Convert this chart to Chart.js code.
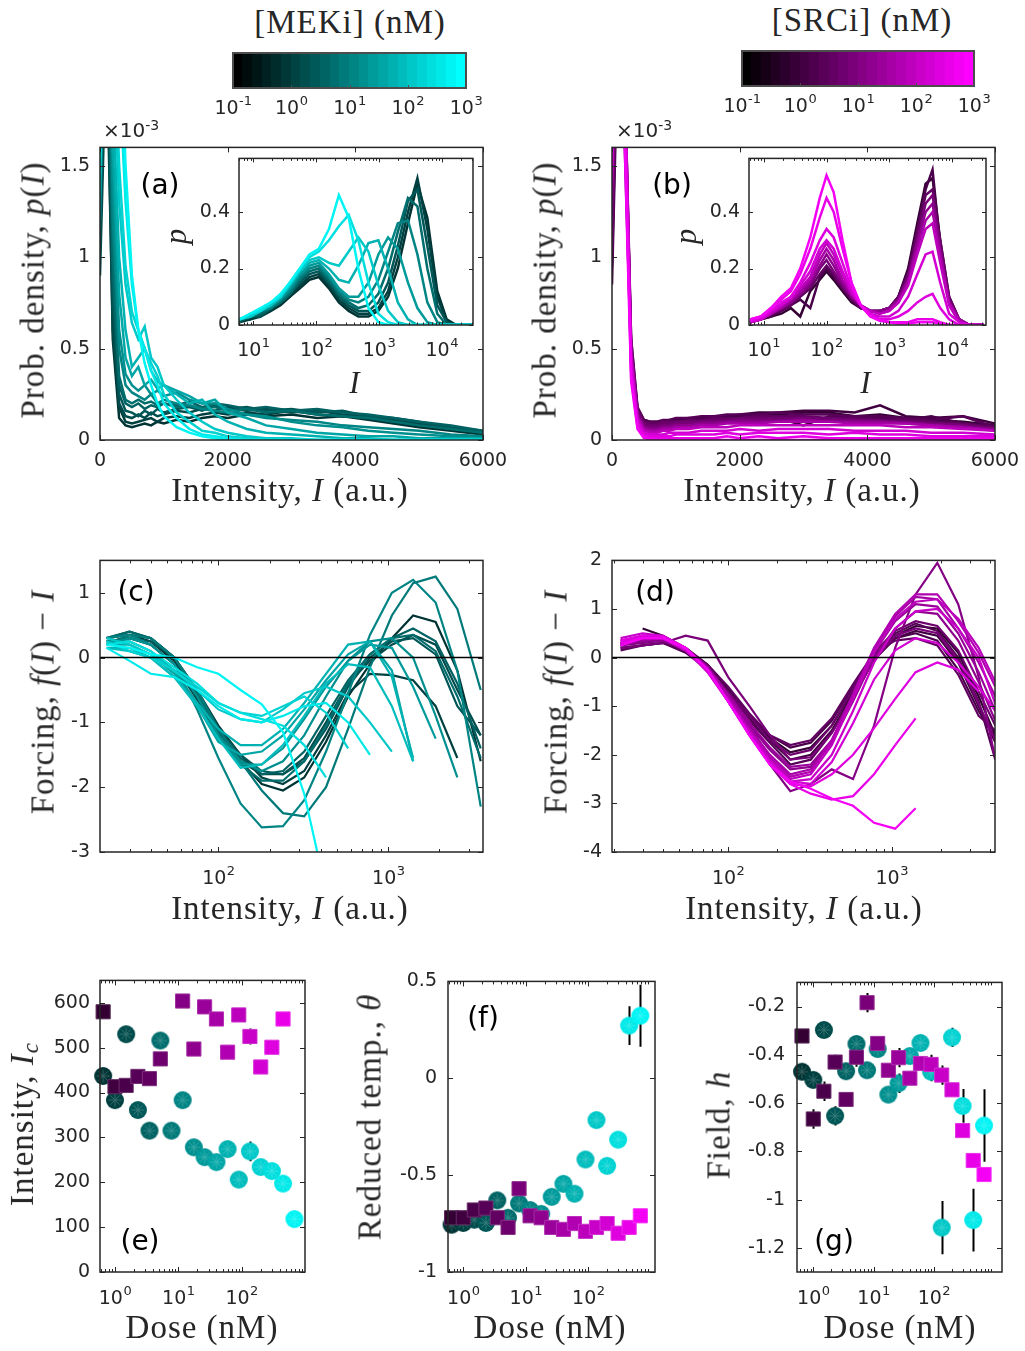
<!DOCTYPE html>
<html>
<head>
<meta charset="utf-8">
<script src="https://cdn.jsdelivr.net/npm/chart.js@4.4.1/dist/chart.umd.min.js"></script>
<style>
  html, body { margin: 0; padding: 0; background: #fff; }
  body { position: relative; width: 1025px; height: 1351px; overflow: hidden; }
  canvas { position: absolute; }
  .lbl { position: absolute; white-space: nowrap; color: #262626; line-height: 1;
         font-family: "Liberation Serif", "Times New Roman", serif; font-size: 33px;
         letter-spacing: 1px; transform: translate(-50%, -50%); }
  .rot { transform: translate(-50%, -50%) rotate(-90deg); }
  .small { font-size: 31px; }
  .lbl sub { font-size: 70%; vertical-align: -5px; }
  .tag { position: absolute; white-space: nowrap; color: #000; line-height: 1;
         font-family: "DejaVu Sans", sans-serif; font-size: 28px; transform: translate(-50%, -50%); }
  .exp { position: absolute; white-space: nowrap; color: #262626; line-height: 1;
         font-family: "DejaVu Sans", sans-serif; font-size: 20px; }
  .exp sup { font-size: 14px; vertical-align: 7px; }
</style>
</head>
<body>
<script>
// ---------- data ----------
// doses used in panels e-g (nM)
const doses = [0.65, 1.0, 1.5, 2.3, 3.5, 5.2, 7.8, 11.7, 17.6, 26, 40, 60, 90, 135, 200, 300, 450, 680];

// (e) critical intensity
const icMek    = [437, 383, 530, 361, 315, 516, 315, 383, 278, 256, 245, 274, 206, 269, 234, 225, 197, 118];
const icMekErr = [4, 4, 4, 14, 4, 4, 4, 4, 4, 18, 4, 4, 4, 22, 4, 4, 4, 4];
const icSrc    = [580, 413, 416, 436, 431, 475, null, 604, 497, 591, 564, 490, 573, 525, 457, 501, 564, null];
const icSrcErr = [14, 4, 4, 4, 4, 14, 0, 10, 4, 16, 4, 4, 8, 18, 4, 4, 4, 0];

// (f) reduced temperature
const thMek    = [-0.756, -0.747, -0.73, -0.747, -0.63, -0.72, -0.646, -0.68, -0.70, -0.612, -0.545, -0.596, -0.419, -0.216, -0.452, -0.317, 0.272, 0.323];
const thMekErr = [0.01, 0.01, 0.01, 0.02, 0.02, 0.02, 0.03, 0.01, 0.01, 0.02, 0.02, 0.02, 0.02, 0.02, 0.03, 0.03, 0.1, 0.16];
const thSrc    = [-0.72, -0.72, -0.68, -0.67, -0.72, -0.77, -0.57, -0.71, -0.72, -0.77, -0.78, -0.75, -0.79, -0.77, -0.75, -0.80, -0.77, -0.71];
const thSrcErr = [0.01, 0.01, 0.01, 0.01, 0.01, 0.01, 0.02, 0.01, 0.01, 0.01, 0.01, 0.01, 0.01, 0.01, 0.01, 0.01, 0.01, 0.01];

// (g) field
const hMek    = [-0.47, -0.504, -0.297, -0.653, -0.468, -0.355, -0.464, -0.376, -0.565, -0.518, -0.405, -0.351, -0.47, -1.116, -0.328, -0.612, -1.085, -0.693];
const hMekErr = [0.01, 0.01, 0.01, 0.04, 0.03, 0.02, 0.02, 0.02, 0.02, 0.04, 0.03, 0.02, 0.04, 0.11, 0.04, 0.07, 0.13, 0.15];
const hSrc    = [-0.322, -0.666, -0.551, -0.43, -0.585, -0.41, -0.184, -0.353, -0.464, -0.412, -0.497, -0.436, -0.44, -0.484, -0.545, -0.714, -0.838, -0.896];
const hSrcErr = [0.01, 0.04, 0.04, 0.03, 0.01, 0.04, 0.04, 0.01, 0.02, 0.04, 0.02, 0.02, 0.04, 0.04, 0.02, 0.02, 0.02, 0.02];

// (a) MEKi histograms, linear intensity, p in units of 1e-3
const histX = [0, 100, 200, 300, 400, 500, 600, 700, 800, 900, 1000, 1200, 1400, 1600, 1800, 2000, 2300, 2600, 3000, 3400, 3800, 4200, 4600, 5000, 5500, 6000];
const histMekDose = [0.65, 1.0, 1.5, 2.3, 3.5, 5.2, 11.7, 17.6, 40, 60, 135, 200, 450, 680];
const histMek = [
  [1.05, 2.4, 0.55, 0.12, 0.08, 0.07, 0.08, 0.09, 0.08, 0.1, 0.09, 0.11, 0.1, 0.12, 0.13, 0.12, 0.14, 0.13, 0.14, 0.12, 0.13, 0.11, 0.09, 0.07, 0.05, 0.03],
  [1.25, 2.6, 0.7, 0.18, 0.1, 0.09, 0.1, 0.11, 0.12, 0.1, 0.12, 0.13, 0.12, 0.14, 0.15, 0.14, 0.15, 0.14, 0.16, 0.14, 0.13, 0.12, 0.1, 0.08, 0.06, 0.04],
  [0.9, 2.2, 0.6, 0.2, 0.13, 0.12, 0.14, 0.12, 0.15, 0.13, 0.14, 0.16, 0.15, 0.17, 0.16, 0.18, 0.16, 0.17, 0.15, 0.16, 0.14, 0.13, 0.11, 0.09, 0.06, 0.04],
  [1.3, 2.5, 0.8, 0.25, 0.16, 0.15, 0.13, 0.16, 0.14, 0.17, 0.15, 0.17, 0.18, 0.16, 0.19, 0.17, 0.18, 0.16, 0.17, 0.15, 0.16, 0.13, 0.12, 0.1, 0.07, 0.05],
  [1.15, 2.7, 0.9, 0.3, 0.2, 0.18, 0.2, 0.17, 0.19, 0.18, 0.2, 0.19, 0.21, 0.18, 0.2, 0.19, 0.17, 0.18, 0.16, 0.17, 0.15, 0.14, 0.12, 0.1, 0.08, 0.05],
  [1.4, 2.8, 1.0, 0.35, 0.22, 0.2, 0.22, 0.2, 0.21, 0.19, 0.2, 0.18, 0.19, 0.17, 0.18, 0.16, 0.17, 0.15, 0.16, 0.14, 0.13, 0.12, 0.1, 0.08, 0.06, 0.04],
  [1.2, 2.9, 1.2, 0.5, 0.3, 0.26, 0.24, 0.22, 0.25, 0.2, 0.22, 0.2, 0.19, 0.17, 0.16, 0.15, 0.14, 0.12, 0.11, 0.1, 0.08, 0.07, 0.06, 0.05, 0.03, 0.02],
  [1.3, 3.0, 1.4, 0.6, 0.36, 0.3, 0.27, 0.3, 0.25, 0.27, 0.24, 0.26, 0.22, 0.2, 0.2, 0.17, 0.14, 0.13, 0.1, 0.08, 0.07, 0.05, 0.04, 0.03, 0.02, 0.01],
  [1.5, 3.0, 1.6, 0.8, 0.45, 0.35, 0.4, 0.3, 0.33, 0.28, 0.3, 0.27, 0.24, 0.2, 0.22, 0.15, 0.12, 0.08, 0.06, 0.04, 0.03, 0.02, 0.02, 0.01, 0.01, 0.01],
  [1.35, 3.0, 1.9, 1.0, 0.6, 0.4, 0.45, 0.5, 0.38, 0.32, 0.3, 0.25, 0.2, 0.22, 0.14, 0.1, 0.06, 0.04, 0.03, 0.02, 0.01, 0.01, 0, 0, 0, 0],
  [1.45, 3.2, 2.2, 1.3, 0.85, 0.64, 0.55, 0.62, 0.45, 0.4, 0.3, 0.22, 0.15, 0.1, 0.06, 0.04, 0.02, 0.01, 0.01, 0, 0, 0, 0, 0, 0, 0],
  [1.5, 3.2, 2.4, 1.5, 0.95, 0.7, 0.6, 0.5, 0.42, 0.35, 0.25, 0.15, 0.1, 0.05, 0.04, 0.02, 0.01, 0, 0, 0, 0, 0, 0, 0, 0, 0],
  [1.55, 3.5, 3.0, 2.0, 1.3, 0.85, 0.6, 0.5, 0.38, 0.3, 0.2, 0.12, 0.06, 0.03, 0.02, 0.01, 0, 0, 0, 0, 0, 0, 0, 0, 0, 0],
  [1.6, 3.8, 3.4, 2.5, 1.5, 0.9, 0.6, 0.42, 0.3, 0.2, 0.13, 0.07, 0.04, 0.02, 0.01, 0, 0, 0, 0, 0, 0, 0, 0, 0, 0, 0]
];

// (b) SRCi histograms
const histSrcDose = [0.65, 1.0, 1.5, 2.3, 3.5, 5.2, 7.8, 17.6, 40, 90, 200, 300, 450, 680];
const histSrc = [
  [0.95, 2.4, 1.7, 0.45, 0.15, 0.1, 0.09, 0.09, 0.1, 0.1, 0.11, 0.11, 0.12, 0.12, 0.13, 0.13, 0.14, 0.14, 0.15, 0.15, 0.13, 0.14, 0.12, 0.11, 0.1, 0.08],
  [1.1, 2.5, 1.8, 0.5, 0.17, 0.11, 0.1, 0.1, 0.1, 0.11, 0.11, 0.12, 0.12, 0.13, 0.13, 0.14, 0.15, 0.15, 0.16, 0.16, 0.15, 0.19, 0.13, 0.12, 0.13, 0.09],
  [0.85, 2.3, 1.6, 0.42, 0.14, 0.09, 0.08, 0.08, 0.09, 0.09, 0.1, 0.1, 0.11, 0.11, 0.12, 0.12, 0.13, 0.12, 0.08, 0.13, 0.12, 0.12, 0.11, 0.13, 0.09, 0.08],
  [1.2, 2.6, 1.9, 0.55, 0.18, 0.11, 0.1, 0.1, 0.11, 0.11, 0.12, 0.12, 0.13, 0.13, 0.14, 0.14, 0.14, 0.15, 0.14, 0.14, 0.13, 0.13, 0.12, 0.11, 0.13, 0.07],
  [1.3, 2.7, 2.0, 0.55, 0.17, 0.1, 0.09, 0.09, 0.1, 0.1, 0.1, 0.11, 0.11, 0.12, 0.12, 0.12, 0.13, 0.13, 0.13, 0.12, 0.12, 0.11, 0.11, 0.1, 0.09, 0.07],
  [1.0, 2.5, 1.8, 0.5, 0.16, 0.09, 0.08, 0.08, 0.09, 0.09, 0.1, 0.1, 0.1, 0.11, 0.11, 0.12, 0.12, 0.12, 0.12, 0.12, 0.11, 0.11, 0.1, 0.09, 0.08, 0.06],
  [1.25, 2.6, 1.9, 0.5, 0.15, 0.08, 0.07, 0.07, 0.08, 0.08, 0.09, 0.09, 0.1, 0.1, 0.1, 0.11, 0.11, 0.11, 0.12, 0.11, 0.11, 0.1, 0.1, 0.09, 0.08, 0.06],
  [1.35, 2.8, 2.0, 0.5, 0.14, 0.07, 0.06, 0.06, 0.07, 0.07, 0.08, 0.08, 0.09, 0.09, 0.1, 0.1, 0.1, 0.1, 0.11, 0.1, 0.1, 0.1, 0.09, 0.08, 0.07, 0.06],
  [1.4, 2.9, 2.0, 0.48, 0.13, 0.06, 0.05, 0.05, 0.06, 0.06, 0.07, 0.07, 0.08, 0.08, 0.09, 0.09, 0.09, 0.1, 0.1, 0.1, 0.09, 0.09, 0.09, 0.08, 0.07, 0.05],
  [1.45, 3.0, 2.0, 0.45, 0.12, 0.05, 0.04, 0.04, 0.05, 0.05, 0.06, 0.06, 0.07, 0.07, 0.07, 0.08, 0.08, 0.08, 0.08, 0.08, 0.08, 0.08, 0.07, 0.07, 0.06, 0.05],
  [1.5, 3.0, 1.9, 0.4, 0.1, 0.04, 0.03, 0.03, 0.03, 0.04, 0.04, 0.04, 0.05, 0.05, 0.05, 0.06, 0.05, 0.06, 0.06, 0.06, 0.05, 0.05, 0.05, 0.04, 0.04, 0.03],
  [1.55, 3.1, 1.8, 0.38, 0.08, 0.03, 0.02, 0.02, 0.02, 0.02, 0.03, 0.03, 0.03, 0.03, 0.04, 0.03, 0.04, 0.04, 0.04, 0.03, 0.04, 0.03, 0.03, 0.02, 0.02, 0.02],
  [1.6, 3.2, 1.7, 0.35, 0.07, 0.02, 0.01, 0.01, 0.01, 0.01, 0.01, 0.01, 0.01, 0.01, 0.02, 0.01, 0.02, 0.01, 0.02, 0.01, 0.01, 0.01, 0.01, 0.01, 0.01, 0.01],
  [1.6, 3.3, 1.6, 0.32, 0.06, 0.01, 0.005, 0, 0, 0, 0, 0, 0, 0, 0, 0, 0, 0, 0, 0, 0, 0, 0, 0, 0, 0]
];

// inset (a): MEKi, log intensity
const logHistMekX = [6, 9, 13, 19, 27, 38, 55, 78, 110, 160, 230, 330, 470, 680, 980, 1400, 2000, 2900, 4100, 5900, 8500, 12000, 17000, 32000];
const logHistMekDose = [0.65, 1.0, 2.3, 5.2, 11.7, 26, 60, 135, 300, 680];
const logHistMek = [
  [0.01, 0.02, 0.03, 0.05, 0.07, 0.1, 0.13, 0.16, 0.17, 0.13, 0.08, 0.05, 0.03, 0.03, 0.05, 0.1, 0.2, 0.36, 0.5, 0.38, 0.12, 0.02, 0, 0],
  [0.02, 0.02, 0.04, 0.05, 0.08, 0.1, 0.14, 0.17, 0.18, 0.14, 0.09, 0.06, 0.04, 0.04, 0.06, 0.12, 0.24, 0.4, 0.52, 0.34, 0.1, 0.01, 0, 0],
  [0.01, 0.03, 0.03, 0.06, 0.08, 0.11, 0.15, 0.18, 0.19, 0.15, 0.1, 0.07, 0.05, 0.05, 0.08, 0.15, 0.28, 0.44, 0.48, 0.28, 0.07, 0.01, 0, 0],
  [0.02, 0.03, 0.04, 0.06, 0.08, 0.11, 0.16, 0.19, 0.2, 0.16, 0.11, 0.08, 0.06, 0.07, 0.11, 0.2, 0.33, 0.45, 0.42, 0.2, 0.04, 0, 0, 0],
  [0.02, 0.03, 0.05, 0.06, 0.09, 0.12, 0.17, 0.2, 0.21, 0.17, 0.12, 0.09, 0.08, 0.1, 0.16, 0.26, 0.36, 0.37, 0.25, 0.08, 0.01, 0, 0, 0],
  [0.02, 0.03, 0.05, 0.07, 0.09, 0.13, 0.18, 0.21, 0.22, 0.18, 0.13, 0.1, 0.1, 0.15, 0.25, 0.31, 0.27, 0.15, 0.06, 0.01, 0, 0, 0, 0],
  [0.02, 0.03, 0.05, 0.07, 0.1, 0.14, 0.19, 0.22, 0.23, 0.2, 0.16, 0.15, 0.21, 0.29, 0.3, 0.2, 0.08, 0.02, 0, 0, 0, 0, 0, 0],
  [0.02, 0.03, 0.05, 0.07, 0.1, 0.14, 0.19, 0.23, 0.24, 0.22, 0.21, 0.26, 0.31, 0.26, 0.14, 0.05, 0.01, 0, 0, 0, 0, 0, 0, 0],
  [0.02, 0.04, 0.05, 0.08, 0.1, 0.15, 0.2, 0.24, 0.26, 0.3, 0.35, 0.39, 0.3, 0.15, 0.04, 0.01, 0, 0, 0, 0, 0, 0, 0, 0],
  [0.02, 0.04, 0.06, 0.08, 0.11, 0.15, 0.2, 0.25, 0.27, 0.34, 0.46, 0.38, 0.2, 0.06, 0.01, 0, 0, 0, 0, 0, 0, 0, 0, 0]
];

// inset (b): SRCi, log intensity
const logHistSrcX = [6, 9, 13, 19, 27, 38, 55, 78, 100, 130, 180, 250, 350, 500, 700, 1000, 1400, 2000, 2800, 3800, 4900, 6500, 9000, 13000, 19000, 32000];
const logHistSrcDose = [0.65, 1.5, 3.5, 7.8, 17.6, 40, 90, 200, 300, 450, 680];
const logHistSrc = [
  [0.01, 0.02, 0.03, 0.04, 0.06, 0.03, 0.12, 0.16, 0.19, 0.16, 0.12, 0.08, 0.06, 0.05, 0.05, 0.06, 0.1, 0.2, 0.36, 0.5, 0.52, 0.3, 0.1, 0.02, 0, 0],
  [0.01, 0.02, 0.03, 0.05, 0.07, 0.09, 0.06, 0.17, 0.2, 0.17, 0.13, 0.09, 0.06, 0.05, 0.05, 0.06, 0.1, 0.19, 0.34, 0.48, 0.55, 0.28, 0.09, 0.02, 0, 0],
  [0.01, 0.02, 0.04, 0.05, 0.07, 0.1, 0.13, 0.18, 0.21, 0.18, 0.13, 0.09, 0.06, 0.05, 0.05, 0.06, 0.1, 0.18, 0.33, 0.46, 0.48, 0.3, 0.1, 0.02, 0, 0],
  [0.01, 0.02, 0.04, 0.06, 0.08, 0.11, 0.14, 0.2, 0.23, 0.19, 0.14, 0.1, 0.07, 0.05, 0.05, 0.06, 0.09, 0.17, 0.3, 0.43, 0.46, 0.28, 0.09, 0.02, 0, 0],
  [0.01, 0.02, 0.04, 0.06, 0.08, 0.11, 0.15, 0.21, 0.25, 0.21, 0.15, 0.1, 0.07, 0.05, 0.05, 0.06, 0.09, 0.16, 0.29, 0.4, 0.43, 0.26, 0.08, 0.02, 0, 0],
  [0.01, 0.02, 0.04, 0.06, 0.09, 0.12, 0.16, 0.23, 0.27, 0.23, 0.16, 0.11, 0.07, 0.05, 0.04, 0.05, 0.08, 0.15, 0.27, 0.37, 0.4, 0.25, 0.08, 0.02, 0, 0],
  [0.01, 0.02, 0.04, 0.07, 0.09, 0.13, 0.17, 0.25, 0.29, 0.25, 0.18, 0.11, 0.07, 0.05, 0.04, 0.05, 0.08, 0.14, 0.25, 0.34, 0.36, 0.22, 0.07, 0.01, 0, 0],
  [0.01, 0.02, 0.05, 0.07, 0.1, 0.14, 0.19, 0.27, 0.3, 0.27, 0.19, 0.12, 0.07, 0.04, 0.03, 0.03, 0.05, 0.1, 0.18, 0.25, 0.26, 0.15, 0.04, 0.01, 0, 0],
  [0.01, 0.03, 0.05, 0.08, 0.1, 0.15, 0.22, 0.3, 0.34, 0.31, 0.22, 0.13, 0.07, 0.04, 0.02, 0.02, 0.03, 0.05, 0.08, 0.1, 0.11, 0.06, 0.02, 0, 0, 0],
  [0.02, 0.03, 0.06, 0.09, 0.12, 0.18, 0.27, 0.38, 0.45, 0.4, 0.27, 0.15, 0.07, 0.03, 0.02, 0.01, 0.01, 0.01, 0.02, 0.02, 0.02, 0.01, 0, 0, 0, 0],
  [0.02, 0.03, 0.06, 0.1, 0.13, 0.2, 0.31, 0.45, 0.53, 0.47, 0.3, 0.15, 0.07, 0.03, 0.015, 0.01, 0.005, 0.005, 0.01, 0.01, 0.01, 0.005, 0, 0, 0, 0]
];

// (c) MEKi forcing
const forceMekX = [22, 30, 40, 55, 75, 100, 135, 180, 240, 320, 430, 580, 780, 1050, 1400, 1900, 2550, 3500];
const forceMekDose = doses;
const forceMek = [
  [0.3, 0.35, 0.25, -0.05, -0.6, -1.15, -1.6, -1.95, -2.05, -1.85, -1.3, -0.6, -0.1, 0.3, 0.65, 0.55, -0.2, -1.6],
  [0.3, 0.4, 0.3, 0.0, -0.5, -1.05, -1.5, -1.85, -1.95, -1.75, -1.2, -0.55, -0.25, -0.27, -0.35, -0.75, -1.55, null],
  [0.25, 0.3, 0.2, -0.1, -0.65, -1.2, -1.6, -1.8, -1.8, -1.55, -1.0, -0.4, -0.05, 0.2, 0.35, 0.2, -0.5, -1.2],
  [0.25, 0.3, 0.25, 0.0, -0.55, -1.1, -1.5, -1.75, -1.8, -1.6, -1.1, -0.45, 0.0, 0.25, 0.3, 0.05, -0.75, -1.2],
  [0.2, 0.35, 0.3, 0.0, -0.55, -1.15, -1.55, -1.8, -1.75, -1.45, -0.9, -0.35, 0.05, 0.3, 0.45, 0.25, -0.4, -1.4],
  [0.3, 0.4, 0.3, 0.0, -0.55, -1.15, -1.65, -1.9, -1.9, -1.6, -1.05, -0.4, 0.05, 0.3, 0.35, 0.1, -0.6, -1.55],
  [0.2, 0.35, 0.3, 0.0, -0.5, -1.1, -1.6, -2.05, -2.4, -2.45, -2.0, -1.1, -0.15, 0.65, 1.15, 1.25, 0.75, -0.5],
  [0.3, 0.35, 0.2, -0.1, -0.8, -1.55, -2.25, -2.62, -2.6, -2.2, -1.45, -0.55, 0.35, 1.0, 1.2, 0.85, -0.2, -2.3],
  [0.2, 0.3, 0.2, -0.1, -0.6, -1.2, -1.6, -1.75, -1.6, -1.2, -0.6, -0.05, 0.25, 0.3, 0.0, -0.9, -1.85, null],
  [0.25, 0.25, 0.1, -0.2, -0.7, -1.25, -1.65, -1.65, -1.4, -0.95, -0.45, -0.05, 0.2, 0.15, -0.45, -1.25, null, null],
  [0.2, 0.2, 0.05, -0.25, -0.75, -1.3, -1.5, -1.45, -1.2, -0.8, -0.35, 0.05, 0.25, -0.2, -1.6, null, null, null],
  [0.15, 0.15, 0.0, -0.3, -0.7, -1.1, -1.35, -1.35, -1.1, -0.7, -0.25, 0.2, 0.25, -0.3, -1.55, null, null, null],
  [0.15, 0.1, 0.0, -0.3, -0.75, -1.25, -1.7, -1.65, -1.35, -0.9, -0.4, -0.1, -0.15, -0.75, -1.6, null, null, null],
  [0.3, 0.2, 0.05, -0.2, -0.5, -0.8, -0.95, -1.0, -0.8, -0.55, -0.45, -0.6, -1.0, -1.45, null, null, null, null],
  [0.25, 0.1, 0.0, -0.2, -0.45, -0.7, -0.85, -0.9, -0.75, -0.6, -0.85, -1.4, null, null, null, null, null, null],
  [0.2, 0.25, 0.1, -0.15, -0.4, -0.7, -0.85, -0.95, -1.05, -1.35, -1.85, null, null, null, null, null, null, null],
  [0.15, -0.05, -0.25, -0.3, -0.5, -0.75, -0.95, -1.0, -0.9, -0.75, -0.7, -1.0, -1.5, null, null, null, null, null],
  [0.2, 0.15, 0.05, 0.0, -0.15, -0.25, -0.5, -0.72, -1.15, -2.1, -3.6, null, null, null, null, null, null, null]
];

// (d) SRCi forcing
const forceSrcX = [22, 30, 40, 55, 75, 100, 135, 180, 240, 320, 430, 580, 780, 1050, 1400, 1900, 2550, 3400, 4300];
const forceSrcDose = doses;
const forceSrc = [
  [null, 0.6, 0.45, 0.2, -0.15, -0.65, -1.2, -1.65, -1.95, -1.85, -1.4, -0.7, 0.0, 0.45, 0.65, 0.6, 0.1, -0.8, -1.6],
  [0.2, 0.25, 0.3, 0.15, -0.2, -0.7, -1.25, -1.7, -2.1, -2.0, -1.5, -0.75, -0.05, 0.4, 0.55, 0.45, -0.1, -1.0, -1.75],
  [0.3, 0.35, 0.35, 0.15, -0.2, -0.7, -1.2, -1.6, -1.85, -1.75, -1.3, -0.6, 0.05, 0.4, 0.5, 0.35, -0.25, -1.1, -1.65],
  [0.15, 0.25, 0.3, 0.1, -0.25, -0.75, -1.3, -1.75, -2.2, -2.1, -1.55, -0.8, -0.05, 0.5, 0.7, 0.55, 0.0, -0.9, -2.1],
  [0.3, 0.3, 0.35, 0.2, -0.15, -0.6, -1.15, -1.6, -1.8, -1.7, -1.25, -0.55, 0.1, 0.35, 0.4, 0.25, -0.35, -1.2, -1.5],
  [0.25, 0.4, 0.35, 0.15, -0.2, -0.7, -1.2, -1.7, -2.0, -1.9, -1.4, -0.65, 0.1, 0.55, 0.75, 0.65, 0.15, -0.7, -1.4],
  [0.2, 0.25, 0.3, 0.45, 0.35, -0.4, -1.0, -1.6, -2.1, -2.05, -1.55, -0.8, -0.05, 0.45, 0.6, 0.5, -0.05, -0.95, -1.7],
  [0.25, 0.3, 0.35, 0.2, -0.2, -0.75, -1.3, -2.2, -2.75, -2.6, -2.3, -2.5, -1.4, 0.2, 1.3, 1.95, 1.1, -0.4, -2.1],
  [0.25, 0.35, 0.35, 0.15, -0.25, -0.8, -1.4, -1.9, -2.3, -2.25, -1.75, -0.9, 0.0, 0.6, 0.95, 0.9, 0.35, -0.5, -1.3],
  [0.3, 0.35, 0.4, 0.2, -0.2, -0.75, -1.35, -1.85, -2.25, -2.2, -1.7, -0.85, 0.1, 0.75, 1.1, 1.05, 0.5, -0.3, -1.1],
  [0.35, 0.4, 0.4, 0.2, -0.2, -0.8, -1.45, -2.0, -2.4, -2.3, -1.75, -0.8, 0.15, 0.85, 1.25, 1.2, 0.6, -0.1, -0.8],
  [0.3, 0.45, 0.4, 0.15, -0.25, -0.85, -1.5, -2.05, -2.45, -2.35, -1.7, -0.75, 0.2, 0.9, 1.3, 1.3, 0.75, 0.1, -0.6],
  [0.35, 0.45, 0.4, 0.15, -0.25, -0.85, -1.5, -2.1, -2.5, -2.4, -1.8, -0.85, 0.1, 0.8, 1.15, 1.2, 0.8, 0.2, -0.5],
  [0.4, 0.5, 0.45, 0.2, -0.3, -0.9, -1.55, -2.15, -2.55, -2.5, -2.0, -1.1, -0.1, 0.6, 0.95, 1.0, 0.6, 0.0, -0.95],
  [0.3, 0.45, 0.4, 0.15, -0.3, -0.9, -1.55, -2.15, -2.55, -2.6, -2.15, -1.35, -0.45, 0.15, 0.4, 0.3, -0.1, -0.6, -1.1],
  [0.35, 0.45, 0.45, 0.2, -0.25, -0.9, -1.6, -2.2, -2.6, -2.65, -2.4, -2.0, -1.45, -0.85, -0.3, -0.1, -0.25, -0.7, null],
  [0.3, 0.4, 0.4, 0.2, -0.25, -0.9, -1.6, -2.2, -2.6, -2.8, -2.92, -2.85, -2.4, -1.8, -1.25, null, null, null, null],
  [0.25, 0.4, 0.4, 0.2, -0.25, -0.9, -1.6, -2.2, -2.55, -2.7, -2.9, -3.05, -3.4, -3.52, -3.1, null, null, null, null]
];

// tick labels
const ticksHistY = [0, 0.5, 1, 1.5];
const ticksHistX = [0, 2000, 4000, 6000];
const ticksInsetX = [10, 100, 1000, 10000];
const ticksInsetY = [0, 0.2, 0.4];
const ticksForceX = [100, 1000];
const ticksForceMekY = [-3, -2, -1, 0, 1];
const ticksForceSrcY = [-4, -3, -2, -1, 0, 1, 2];
const ticksDose = [1, 10, 100];
const ticksIc = [0, 100, 200, 300, 400, 500, 600];
const ticksTheta = [-1, -0.5, 0, 0.5];
const ticksField = [-1.2, -1, -0.8, -0.6, -0.4, -0.2];
const ticksBar = [0.1, 1, 10, 100, 1000];

// ---------- helpers ----------
const TICK_FONT = '"DejaVu Sans", sans-serif';

// colormap: black -> cyan (MEKi) or black -> magenta (SRCi), log dose 0.1..1000
function doseRGB(d, kind) {
  const t = Math.min(1, Math.max(0, (Math.log10(d) + 1) / 4));
  const v = Math.round(255 * t);
  return kind === 'mek' ? [0, v, v] : [v, 0, v];
}
function doseColor(d, kind, lighten) {
  let c = doseRGB(d, kind);
  if (lighten) c = c.map(v => Math.round(v + (255 - v) * lighten));
  return `rgb(${c[0]},${c[1]},${c[2]})`;
}

// filled circle with a faint asterisk, as in the original markers
function circleMarker(d, kind) {
  const c = document.createElement('canvas');
  c.width = c.height = 20;
  const g = c.getContext('2d');
  g.fillStyle = doseColor(d, kind);
  g.beginPath(); g.arc(10, 10, 9, 0, 2 * Math.PI); g.fill();
  g.strokeStyle = doseColor(d, kind, 0.22);
  g.lineWidth = 1;
  g.beginPath();
  for (let k = 0; k < 8; k++) {
    const an = k * Math.PI / 4;
    g.moveTo(10, 10);
    g.lineTo(10 + 6.5 * Math.cos(an), 10 + 6.5 * Math.sin(an));
  }
  g.stroke();
  return c;
}

const matlabBox = {
  id: 'matlabBox',
  beforeDatasetsDraw(chart, args, o) {
    if (!o.fill) return;
    const a = chart.chartArea, ctx = chart.ctx;
    ctx.save();
    ctx.fillStyle = o.fill;
    ctx.fillRect(a.left, a.top, a.width, a.height);
    ctx.restore();
  },
  afterDraw(chart, args, o) {
    const { ctx, chartArea: a } = chart;
    const major = o.major || 5, minor = o.minor === 0 ? 0 : (o.minor || 3);
    const marks = (s) => {
      const m = s.ticks.map(t => [t.value, major]);
      if (s.type === 'logarithmic' && minor) {
        for (let e = Math.floor(Math.log10(s.min)); e <= Math.ceil(Math.log10(s.max)); e++) {
          for (let k = 2; k <= 9; k++) {
            const v = k * Math.pow(10, e);
            if (v > s.min && v < s.max) m.push([v, minor]);
          }
        }
      }
      return m;
    };
    ctx.save();
    ctx.strokeStyle = o.color || '#262626';
    ctx.lineWidth = 1;
    ctx.beginPath();
    const xs = chart.scales.x, ys = chart.scales.y;
    for (const [v, len] of marks(xs)) {
      const px = Math.round(xs.getPixelForValue(v)) + 0.5;
      ctx.moveTo(px, a.bottom); ctx.lineTo(px, a.bottom - len);
      if (!o.bottomOnly) { ctx.moveTo(px, a.top); ctx.lineTo(px, a.top + len); }
    }
    for (const [v, len] of marks(ys)) {
      const py = Math.round(ys.getPixelForValue(v)) + 0.5;
      ctx.moveTo(a.left, py); ctx.lineTo(a.left + len, py);
      ctx.moveTo(a.right, py); ctx.lineTo(a.right - len, py);
    }
    ctx.stroke();
    ctx.lineWidth = o.lw || 1.5;
    ctx.strokeRect(a.left, a.top, a.width, a.height);

    // 10^n labels for logarithmic x axes, drawn at the scale's tick positions
    if (xs.type === 'logarithmic') {
      ctx.fillStyle = '#262626';
      ctx.textBaseline = 'alphabetic';
      ctx.textAlign = 'left';
      const base = a.bottom + (o.labelBase || 32);
      for (const t of xs.ticks) {
        const e = String(Math.round(Math.log10(t.value)));
        ctx.font = '19px ' + TICK_FONT;
        const w1 = ctx.measureText('10').width;
        ctx.font = '13px ' + TICK_FONT;
        const w2 = ctx.measureText(e).width;
        const x0 = xs.getPixelForValue(t.value) - (w1 + w2) / 2;
        ctx.font = '19px ' + TICK_FONT;
        ctx.fillText('10', x0, base);
        ctx.font = '13px ' + TICK_FONT;
        ctx.fillText(e, x0 + w1 + 0.5, base - 9.5);
      }
    }
    ctx.restore();
  }
};

// vertical error bars, drawn behind the markers
const errorBars = {
  id: 'errorBars',
  beforeDatasetsDraw(chart) {
    const { ctx } = chart, ys = chart.scales.y;
    chart.data.datasets.forEach((ds, i) => {
      if (!ds.errs) return;
      const meta = chart.getDatasetMeta(i);
      ctx.save();
      ctx.strokeStyle = '#000';
      ctx.lineWidth = 2;
      ctx.beginPath();
      meta.data.forEach((pt, j) => {
        const raw = ds.data[j];
        if (!raw.e) return;
        const x = Math.round(pt.x) + 0.5;
        ctx.moveTo(x, ys.getPixelForValue(raw.y - raw.e));
        ctx.lineTo(x, ys.getPixelForValue(raw.y + raw.e));
      });
      ctx.stroke();
      ctx.restore();
    });
  }
};

const colorBand = {
  id: 'colorBand',
  beforeDatasetsDraw(chart, args, o) {
    if (!o.kind) return;
    const { ctx, chartArea: a } = chart, xs = chart.scales.x;
    const n = 24, lo = Math.log10(xs.min), hi = Math.log10(xs.max);
    ctx.save();
    for (let i = 0; i < n; i++) {
      const x0 = xs.getPixelForValue(Math.pow(10, lo + (hi - lo) * i / n));
      const x1 = xs.getPixelForValue(Math.pow(10, lo + (hi - lo) * (i + 1) / n));
      const v = Math.round(255 * i / (n - 1));
      ctx.fillStyle = o.kind === 'mek' ? `rgb(0,${v},${v})` : `rgb(${v},0,${v})`;
      ctx.fillRect(Math.floor(x0), a.top, Math.ceil(x1) - Math.floor(x0), a.height);
    }
    ctx.restore();
  }
};

function axis(a, dir, size) {
  return {
    type: a.log ? 'logarithmic' : 'linear',
    min: a.min, max: a.max, bounds: 'data',
    grid: { display: false, drawTicks: false },
    border: { display: false },
    ticks: {
      display: !a.log, autoSkip: false, maxRotation: 0, minRotation: 0, padding: a.pad || 0,
      color: '#262626', font: { family: 'DejaVu Sans', size: 19 },
      callback: v => String(v)
    },
    afterBuildTicks: s => { s.ticks = (a.ticks || []).map(v => ({ value: v })); },
    afterFit: s => { if (dir === 'x') s.height = size; else s.width = size; }
  };
}

function makePanel(box, cfg) {
  const [L, T, R, B] = box;
  const pad = Object.assign({ l: 70, t: 16, r: 36, b: 44 }, cfg.pad || {});
  const w = R - L + pad.l + pad.r, h = B - T + pad.t + pad.b;
  const cv = document.createElement('canvas');
  cv.width = w; cv.height = h;
  Object.assign(cv.style, { left: (L - pad.l) + 'px', top: (T - pad.t) + 'px', width: w + 'px', height: h + 'px' });
  document.body.appendChild(cv);
  return new Chart(cv, {
    type: 'line',
    data: { datasets: cfg.datasets || [] },
    options: {
      responsive: false, animation: false, devicePixelRatio: 1,
      layout: { padding: { left: 0, top: pad.t, right: pad.r, bottom: 0 } },
      plugins: { legend: { display: false }, tooltip: { enabled: false },
                 matlabBox: cfg.frame || {}, colorBand: cfg.band || {} },
      elements: { point: { radius: 0 }, line: { tension: 0, borderWidth: 2 } },
      scales: { x: axis(cfg.x, 'x', pad.b), y: axis(cfg.y, 'y', pad.l) }
    },
    plugins: [matlabBox, errorBars, colorBand]
  });
}

function curves(xs, rows, ds, kind, lw) {
  return rows.map((ys, i) => ({
    data: xs.map((x, j) => ({ x, y: ys[j] })).filter(p => p.y != null),
    borderColor: doseColor(ds[i], kind), borderWidth: lw, pointRadius: 0, order: -i
  }));
}

function doseSeries(vals, errs, kind) {
  const pts = [];
  doses.forEach((d, i) => {
    if (vals[i] != null) pts.push({ x: d, y: vals[i], e: errs ? errs[i] : 0 });
  });
  const mek = kind === 'mek';
  return {
    data: pts, showLine: false, clip: false, errs: true,
    pointStyle: mek ? pts.map(p => circleMarker(p.x, kind)) : 'rect',
    pointRadius: mek ? 9 : 10, pointHoverRadius: mek ? 9 : 10,
    pointBackgroundColor: pts.map(p => doseColor(p.x, kind)),
    pointBorderColor: pts.map(p => doseColor(p.x, kind, 0.18)),
    pointBorderWidth: mek ? 0 : 1, borderWidth: 0, order: mek ? 1 : 0
  };
}

function zeroLine(x0, x1) {
  return { data: [{ x: x0, y: 0 }, { x: x1, y: 0 }], borderColor: '#000', borderWidth: 1.5, pointRadius: 0, order: -100 };
}

// ---------- colorbars ----------
makePanel([233, 53, 466, 88], {
  pad: { l: 40, t: 6, r: 40, b: 40 },
  x: { log: true, min: 0.1, max: 1000, ticks: ticksBar },
  y: { min: 0, max: 1, ticks: [] },
  band: { kind: 'mek' }, frame: { color: '#4d4d4d', lw: 2, bottomOnly: true, minor: 0, major: 3, labelBase: 26 }
});
makePanel([742, 51, 974, 86], {
  pad: { l: 40, t: 6, r: 40, b: 40 },
  x: { log: true, min: 0.1, max: 1000, ticks: ticksBar },
  y: { min: 0, max: 1, ticks: [] },
  band: { kind: 'src' }, frame: { color: '#4d4d4d', lw: 2, bottomOnly: true, minor: 0, major: 3, labelBase: 26 }
});

// ---------- (a) and (b) ----------
makePanel([100, 142, 483, 440], {
  x: { min: 0, max: 6000, ticks: ticksHistX, pad: 10 },
  y: { min: 0, max: 1.6, ticks: ticksHistY, pad: 10 },
  datasets: curves(histX, histMek, histMekDose, 'mek', 2.5)
});
makePanel([239, 152, 473, 325], {
  pad: { l: 60, t: 14, r: 30, b: 40 },
  x: { log: true, min: 5.9, max: 31500, ticks: ticksInsetX },
  y: { min: 0, max: 0.59, ticks: ticksInsetY, pad: 9 },
  frame: { fill: '#fff', major: 4, minor: 2.5, labelBase: 31 },
  datasets: curves(logHistMekX, logHistMek, logHistMekDose, 'mek', 2.5)
});
makePanel([612, 142, 995, 440], {
  x: { min: 0, max: 6000, ticks: ticksHistX, pad: 10 },
  y: { min: 0, max: 1.6, ticks: ticksHistY, pad: 10 },
  datasets: curves(histX, histSrc, histSrcDose, 'src', 2.5)
});
makePanel([749, 152, 986, 325], {
  pad: { l: 60, t: 14, r: 30, b: 40 },
  x: { log: true, min: 5.8, max: 34900, ticks: ticksInsetX },
  y: { min: 0, max: 0.59, ticks: ticksInsetY, pad: 9 },
  frame: { fill: '#fff', major: 4, minor: 2.5, labelBase: 31 },
  datasets: curves(logHistSrcX, logHistSrc, logHistSrcDose, 'src', 2.5)
});

// ---------- (c) and (d) ----------
makePanel([100, 555, 483, 852], {
  x: { log: true, min: 20.1, max: 3610, ticks: ticksForceX },
  y: { min: -3, max: 1.5, ticks: ticksForceMekY, pad: 10 },
  frame: { labelBase: 32 },
  datasets: [zeroLine(20.1, 3610)].concat(curves(forceMekX, forceMek, forceMekDose, 'mek', 2.2))
});
makePanel([612, 555, 995, 852], {
  x: { log: true, min: 19.5, max: 4280, ticks: ticksForceX },
  y: { min: -4, max: 2, ticks: ticksForceSrcY, pad: 10 },
  frame: { labelBase: 32 },
  datasets: [zeroLine(19.5, 4280)].concat(curves(forceSrcX, forceSrc, forceSrcDose, 'src', 2.2))
});

// ---------- (e), (f), (g) ----------
makePanel([100, 975, 305, 1272], {
  x: { log: true, min: 0.58, max: 1000, ticks: ticksDose },
  y: { min: 0, max: 650, ticks: ticksIc, pad: 10 },
  frame: { labelBase: 32 },
  datasets: [doseSeries(icMek, icMekErr, 'mek'), doseSeries(icSrc, icSrcErr, 'src')]
});
makePanel([448, 975, 655, 1272], {
  x: { log: true, min: 0.569, max: 1167, ticks: ticksDose },
  y: { min: -1, max: 0.5, ticks: ticksTheta, pad: 11 },
  frame: { labelBase: 32 },
  datasets: [doseSeries(thMek, thMekErr, 'mek'), doseSeries(thSrc, thSrcErr, 'src')]
});
makePanel([797, 975, 1002, 1272], {
  x: { log: true, min: 0.537, max: 1350, ticks: ticksDose },
  y: { min: -1.3, max: -0.1, ticks: ticksField, pad: 12 },
  frame: { labelBase: 32 },
  datasets: [doseSeries(hMek, hMekErr, 'mek'), doseSeries(hSrc, hSrcErr, 'src')]
});

// ---------- text ----------
function put(html, cls, x, y) {
  const d = document.createElement('div');
  d.className = cls;
  d.innerHTML = html;
  d.style.left = x + 'px';
  d.style.top = y + 'px';
  document.body.appendChild(d);
}
put('[MEKi] (nM)', 'lbl', 350, 22);
put('[SRCi] (nM)', 'lbl', 862, 20);

put('Prob. density, <i>p</i>(<i>I</i>)', 'lbl rot', 33, 290);
put('Intensity, <i>I</i> (a.u.)', 'lbl', 290, 490);
put('Prob. density, <i>p</i>(<i>I</i>)', 'lbl rot', 545, 290);
put('Intensity, <i>I</i> (a.u.)', 'lbl', 802, 490);
put('<i>p</i>', 'lbl rot small', 175, 236);
put('<i>I</i>', 'lbl small', 355, 382);
put('<i>p</i>', 'lbl rot small', 685, 236);
put('<i>I</i>', 'lbl small', 866, 382);

put('Forcing, <i>f</i>(<i>I</i>) &minus; <i>I</i>', 'lbl rot', 43, 702);
put('Intensity, <i>I</i> (a.u.)', 'lbl', 290, 908);
put('Forcing, <i>f</i>(<i>I</i>) &minus; <i>I</i>', 'lbl rot', 556, 702);
put('Intensity, <i>I</i> (a.u.)', 'lbl', 804, 908);

put('Intensity, <i>I<sub>c</sub></i>', 'lbl rot', 24, 1124);
put('Dose (nM)', 'lbl', 202, 1327);
put('Reduced temp., <i>&theta;</i>', 'lbl rot', 370, 1117);
put('Dose (nM)', 'lbl', 550, 1327);
put('Field, <i>h</i>', 'lbl rot', 719, 1125);
put('Dose (nM)', 'lbl', 900, 1327);

put('(a)', 'tag', 160, 185);
put('(b)', 'tag', 672, 185);
put('(c)', 'tag', 136, 592);
put('(d)', 'tag', 655, 592);
put('(e)', 'tag', 140, 1241);
put('(f)', 'tag', 483, 1018);
put('(g)', 'tag', 834, 1241);

const e1 = document.createElement('div');
e1.className = 'exp'; e1.innerHTML = '&times;10<sup>-3</sup>';
e1.style.left = '103px'; e1.style.top = '118px';
document.body.appendChild(e1);
const e2 = e1.cloneNode(true);
e2.style.left = '616px';
document.body.appendChild(e2);
</script>
</body>
</html>
